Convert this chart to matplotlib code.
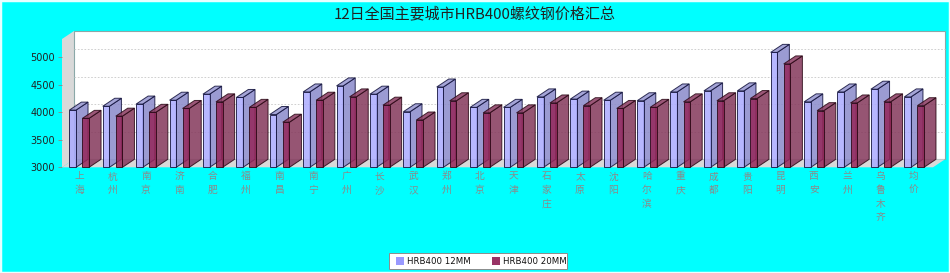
import matplotlib
matplotlib.use("Agg")
import matplotlib.pyplot as plt
from matplotlib.patches import Polygon, Rectangle

plt.rcParams['font.family'] = ['Noto Sans CJK SC', 'DejaVu Sans']

title = "12日全国主要城市HRB400螺纹钢价格汇总"
cities = ["上海", "杭州", "南京", "济南", "合肥", "福州", "南昌", "南宁", "广州", "长沙",
          "武汉", "郑州", "北京", "天津", "石家庄", "太原", "沈阳", "哈尔滨", "重庆", "成都",
          "贵阳", "昆明", "西安", "兰州", "乌鲁木齐", "均价"]
series_names = ["HRB400 12MM", "HRB400 20MM"]
price_12mm = [4040, 4110, 4150, 4220, 4330, 4270, 3960, 4370, 4480, 4330,
              4010, 4460, 4090, 4090, 4280, 4240, 4220, 4210, 4370, 4390,
              4390, 5090, 4190, 4370, 4420, 4280]
price_20mm = [3890, 3930, 4000, 4070, 4190, 4090, 3820, 4220, 4280, 4130,
              3860, 4210, 3990, 3990, 4170, 4120, 4070, 4090, 4190, 4210,
              4250, 4880, 4030, 4170, 4190, 4120]
yticks = [3000, 3500, 4000, 4500, 5000]

W, H = 950, 273
fig = plt.figure(figsize=(W / 100, H / 100), dpi=100, facecolor='#00FFFF')

# front plot rectangle in pixels
L, R, T, B = 62, 933, 39, 167.3
DXP, DYP = 12, 8
XMIN, XMAX = -0.51, 25.57
YMIN, YMAX = 3000, 5333

ax = fig.add_axes([L / W, 1 - B / H, (R - L) / W, (B - T) / H])
ax.set_xlim(XMIN, XMAX)
ax.set_ylim(YMIN, YMAX)
ax.patch.set_visible(False)
for s in ax.spines.values():
    s.set_visible(False)

pxx = (R - L) / (XMAX - XMIN)
pxy = (B - T) / (YMAX - YMIN)
dxu = DXP / pxx
dyu = DYP / pxy

# walls
side_wall = Polygon([(XMIN, YMIN), (XMIN, YMAX), (XMIN + dxu, YMAX + dyu), (XMIN + dxu, YMIN + dyu)],
                    closed=True, facecolor='#D9D9D9', edgecolor='none', clip_on=False, zorder=1)
ax.add_patch(side_wall)
back_wall = Polygon([(XMIN + dxu, YMIN + dyu), (XMIN + dxu, YMAX + dyu), (XMAX + dxu, YMAX + dyu),
                     (XMAX + dxu, YMIN + dyu)], closed=True, facecolor='white',
                    edgecolor='#8AA8A8', lw=0.8, clip_on=False, zorder=1)
ax.add_patch(back_wall)
floor = Polygon([(XMIN, YMIN), (XMAX, YMIN), (XMAX + dxu, YMIN + dyu), (XMIN + dxu, YMIN + dyu)],
                closed=True, facecolor='#D9D9D9', edgecolor='none', clip_on=False, zorder=2)
ax.add_patch(floor)
for v in yticks[1:]:
    ax.plot([XMIN + dxu, XMAX + dxu], [v + dyu, v + dyu], color='#C8C8C8', lw=0.6,
            ls=(0, (2, 2)), clip_on=False, zorder=1.5)

# bars
specs = [
    (price_12mm, -0.29, -0.09, '#ABABFF', '#9595D0', '#8A8ACA', '#10103A'),
    (price_20mm, 0.10, 0.30, '#952659', '#8A3A60', '#84375B', '#2A0815'),
]
alpha = 0.85
z = 3
for i in range(len(cities)):
    for vals, x0, x1, cf, ct, cs, ec in specs:
        v = vals[i]
        a, b = i + x0, i + x1
        side = Polygon([(b, YMIN), (b, v), (b + dxu, v + dyu), (b + dxu, YMIN + dyu)], closed=True,
                       facecolor=cs, edgecolor=ec, lw=0.7, alpha=alpha, clip_on=False, zorder=z)
        top = Polygon([(a, v), (b, v), (b + dxu, v + dyu), (a + dxu, v + dyu)], closed=True,
                      facecolor=ct, edgecolor=ec, lw=0.7, alpha=alpha, clip_on=False, zorder=z)
        front = Rectangle((a, YMIN), b - a, v - YMIN, facecolor=cf, edgecolor=ec, lw=0.7,
                          alpha=alpha, clip_on=False, zorder=z + 0.1)
        ax.add_patch(side)
        ax.add_patch(top)
        ax.add_patch(front)
        z += 1

ax.set_yticks(yticks)
ax.set_yticklabels([str(t) for t in yticks], fontsize=7, color='#222222', family='DejaVu Sans')
ax.tick_params(axis='y', length=3, width=0.6, color='#888888', pad=2)
ax.set_xticks(range(len(cities)))
ax.set_xticklabels(['\n'.join(c) for c in cities], fontsize=7, color='#8A8A8A',
                   linespacing=1.45, va='top')
ax.tick_params(axis='x', length=0, pad=3)

# title
fig.text(0.5, 1 - 14 / H, title, ha='center', va='center', fontsize=10.8, color='#222222')

# legend
def fx(x):
    return x / W

def fy(y):
    return 1 - y / H

fig.patches.append(Rectangle((fx(389), fy(269)), (567 - 389) / W, 16 / H, transform=fig.transFigure,
                             facecolor='white', edgecolor='#8C8C8C', lw=0.7))
for sx, tx, col, name in [(396, 407, '#9999FF', series_names[0]), (492, 503, '#993366', series_names[1])]:
    fig.patches.append(Rectangle((fx(sx), fy(265)), 8 / W, 8 / H, transform=fig.transFigure,
                                 facecolor=col, edgecolor='none'))
    fig.text(fx(tx), fy(261.5), name, ha='left', va='center', fontsize=6.2, color='#111111',
             family='DejaVu Sans')

# outer light border
fig.patches.append(Rectangle((0, 0), 1, 1, transform=fig.transFigure, facecolor='none',
                             edgecolor='#E8FFFF', lw=2.5))

fig.savefig('out.png', dpi=100, facecolor=fig.get_facecolor())
